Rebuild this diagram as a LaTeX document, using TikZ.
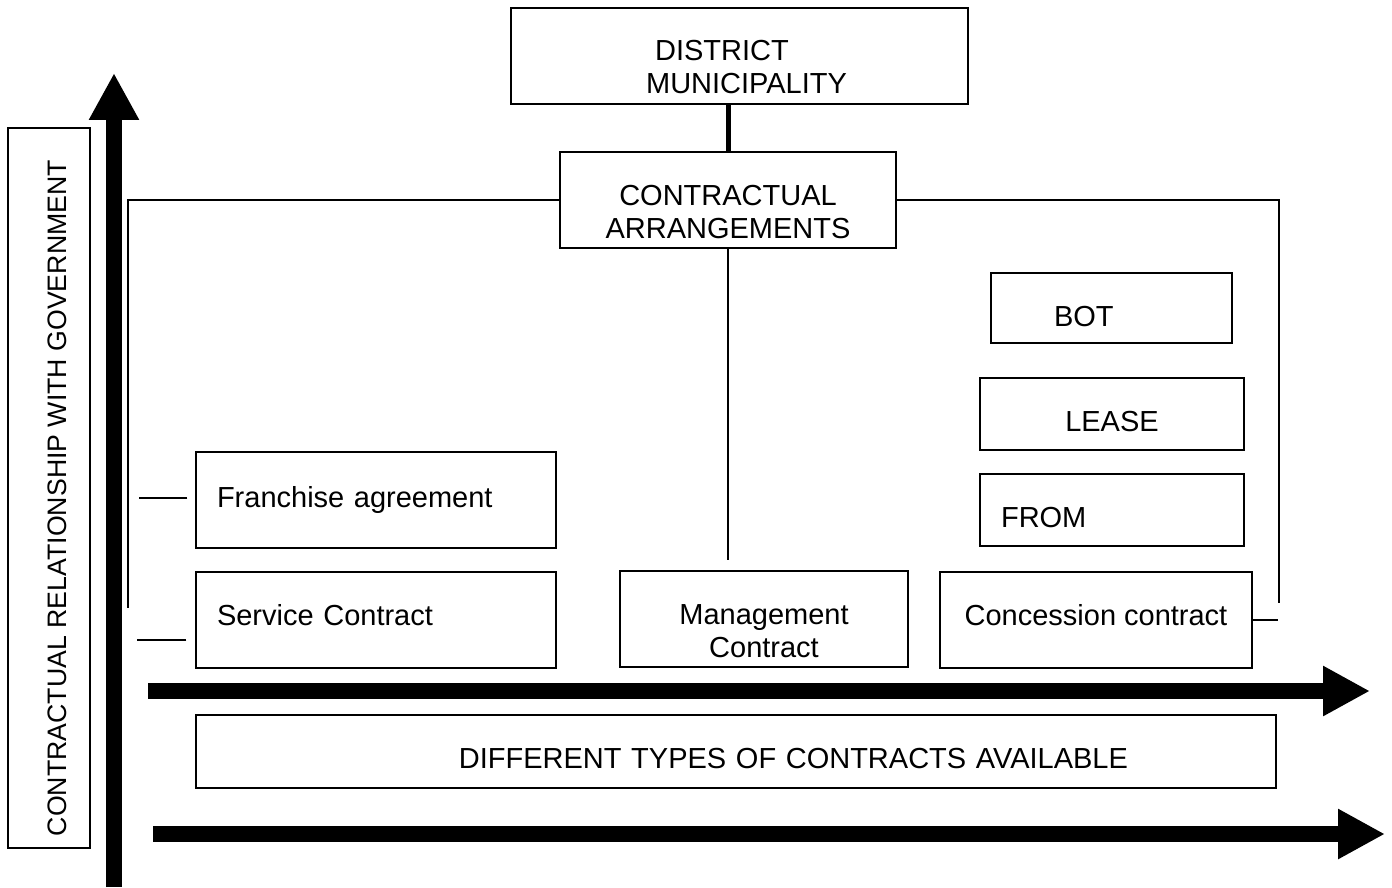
\documentclass[tikz,border=0pt]{standalone}
\usepackage{fontspec}
\setmainfont{Liberation Sans}
\usetikzlibrary{arrows.meta}

\tikzset{
    box/.style={draw, line width=0.8pt, inner sep=0pt, font=\fontsize{16.5}{18.8}\selectfont},
    leftbox/.style={box, align=left, inner xsep=0.42cm},
    link/.style={line width=0.7pt},
    bigarrow/.style={line width=0.32cm, -{Triangle[length=0.94cm, width=0.94cm]}},
}

\begin{document}
\begin{tikzpicture}[x=0.02cm, y=-0.02cm]
    \useasboundingbox (0,0) rectangle (1392,887);

    % top of the tree
    \node[box, align=left, text height=43.2pt, minimum width=9.14cm, minimum height=1.92cm] (district) at (739.5,56) {\hspace*{0.46cm}DISTRICT\\\hspace*{0.28cm}MUNICIPALITY};
    \node[box, align=center, text height=44.4pt, minimum width=6.72cm, minimum height=1.92cm] (arrangements) at (728,200) {CONTRACTUAL\\ARRANGEMENTS};

    % contract types
    \node[leftbox, text width=6.36cm, minimum height=1.92cm] (franchise) at (376,500) {Franchise agreement};
    \node[leftbox, text width=6.36cm, text depth=5.6pt, minimum height=1.92cm] (service) at (376,620) {Service Contract};
    \node[box, align=center, text height=44.4pt, minimum width=5.76cm, minimum height=1.92cm] (management) at (764,619) {Management\\Contract};
    \node[box, text depth=5.6pt, minimum width=6.24cm, minimum height=1.92cm] (concession) at (1096,620) {Concession contract};

    % concession forms
    \node[box, align=left, inner xsep=1.26cm, text width=2.3cm, text height=21.6pt, minimum height=1.4cm] (bot) at (1111.5,308) {BOT};
    \node[box, text height=20.4pt, minimum width=5.28cm, minimum height=1.44cm] (lease) at (1112,414) {LEASE};
    \node[leftbox, text width=4.44cm, text height=20.4pt, minimum height=1.44cm] (from) at (1112,510) {FROM};

    % axis labels
    \node[box, align=right, inner xsep=2.96cm, text width=15.68cm, text height=19.4pt, minimum height=1.46cm] (types) at (736,751.5) {DIFFERENT TYPES OF CONTRACTS AVAILABLE};
    \node[box, rotate=90, text height=19.5pt, minimum width=14.4cm, minimum height=1.64cm, font=\fontsize{15.2}{18}\selectfont] (relation) at (49,488) {CONTRACTUAL RELATIONSHIP WITH GOVERNMENT\hspace*{0.4cm}};

    \coordinate (trunkL) at (128,608);
    \coordinate (trunkR) at (1279,603);
    \coordinate (trunkM) at (728,560);

    % links
    \draw[line width=0.1cm] (arrangements.north) -- (arrangements.north |- district.south);
    \draw[link] (arrangements.west) -| (trunkL);
    \draw[link] (arrangements.east) -| (trunkR);
    \draw[link] (arrangements.south) -- (trunkM);
    \draw[link] ([xshift=-0.16cm,yshift=0.04cm]franchise.west) -- ++(-48,0);
    \draw[link] ([xshift=-0.18cm,yshift=-0.4cm]service.west) -- ++(-49,0);
    \draw[link] (concession.east) -- ++(25,0);

    % axes
    \draw[bigarrow] (114,887) -- (114,73);
    \draw[bigarrow] (148,691) -- (1370,691);
    \draw[bigarrow] (153,834) -- (1385,834);
\end{tikzpicture}
\end{document}
